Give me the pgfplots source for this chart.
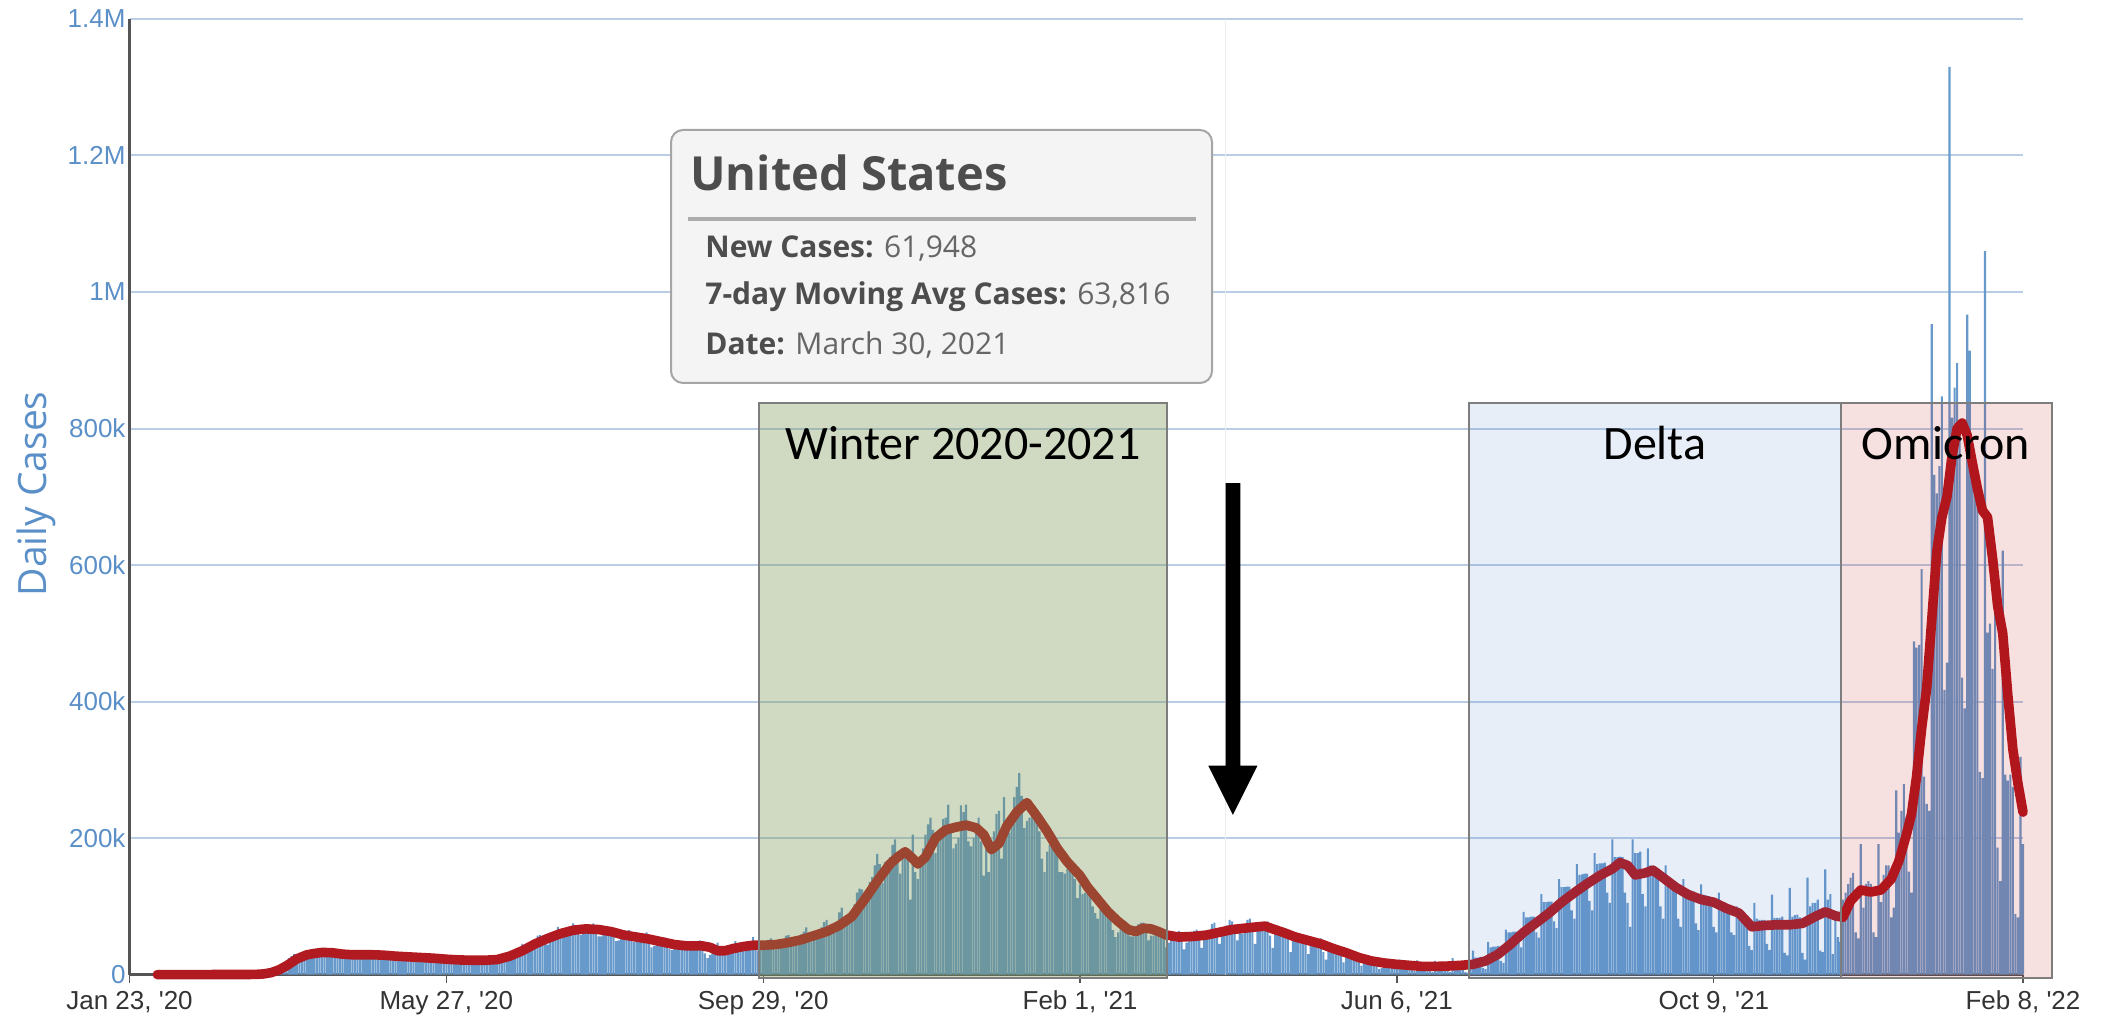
\documentclass[border=0pt]{standalone}
\usepackage{pgfplots}
\pgfplotsset{compat=1.18}
\usepackage{pgfplotstable}
\usepackage{fontspec}
\setmainfont{Liberation Sans}
\newfontfamily\opensans{Open Sans}
\newfontfamily\carlito{Carlito}
\definecolor{barblue}{RGB}{104,153,203}
\definecolor{linered}{RGB}{176,26,32}
\definecolor{gridblue}{RGB}{185,206,230}
\definecolor{labelblue}{RGB}{91,143,199}
\definecolor{tickgray}{RGB}{51,51,51}
\definecolor{axisgray}{RGB}{85,85,85}
\definecolor{boxgray}{RGB}{125,125,125}
\definecolor{wintercol}{RGB}{120,150,80}
\definecolor{deltacol}{RGB}{68,114,196}
\definecolor{omicol}{RGB}{192,0,0}
\definecolor{tipfill}{RGB}{244,244,244}
\definecolor{tipborder}{RGB}{165,165,165}
\definecolor{tiptext}{RGB}{77,77,77}
\definecolor{tipval}{RGB}{102,102,102}
\definecolor{sepgray}{RGB}{172,172,172}
\definecolor{crossgray}{RGB}{236,236,236}

% daily new cases (thousands), first row = day 46 (Mon 9 Mar 2020), day 0 = 23 Jan 2020
\pgfplotstableread[row sep=\\]{v\\
0.1\\0.2\\0.3\\0.4\\0.6\\0.7\\0.8\\
1.5\\2.5\\4\\6\\9\\12\\14\\
14\\17\\20\\24\\27\\30\\29\\
25\\27\\29\\32\\35\\35\\30\\
30\\30\\31\\34\\35\\33\\28\\
26\\27\\30\\31\\32\\30\\27\\
26\\27\\28\\30\\35\\33\\27\\
23\\25\\28\\30\\33\\30\\26\\
24\\25\\27\\29\\29\\28\\22\\
22\\23\\23\\28\\28\\26\\21\\
22\\21\\23\\26\\25\\24\\19\\
18\\19\\20\\22\\24\\25\\21\\
21\\20\\20\\22\\24\\22\\18\\
18\\19\\21\\23\\25\\25\\20\\
20\\23\\26\\28\\32\\32\\27\\
29\\34\\38\\40\\45\\42\\41\\
43\\47\\52\\57\\58\\50\\47\\
44\\59\\62\\62\\70\\62\\58\\
62\\64\\68\\75\\72\\64\\58\\
62\\63\\70\\73\\75\\66\\56\\
56\\64\\67\\66\\68\\58\\49\\
50\\55\\56\\60\\65\\56\\48\\
48\\54\\53\\55\\62\\53\\40\\
42\\46\\48\\49\\54\\47\\38\\
36\\42\\42\\47\\48\\45\\36\\
36\\42\\43\\45\\50\\42\\31\\
24\\29\\35\\38\\47\\40\\34\\
36\\38\\40\\45\\49\\42\\35\\
39\\40\\40\\47\\55\\43\\35\\
37\\41\\42\\46\\53\\48\\37\\
39\\45\\51\\57\\58\\51\\46\\
43\\50\\59\\63\\69\\57\\48\\
56\\60\\62\\69\\77\\80\\58\\
67\\73\\78\\91\\98\\85\\76\\
84\\92\\103\\120\\126\\125\\105\\
119\\136\\143\\160\\177\\162\\134\\
165\\162\\172\\190\\198\\178\\148\\
170\\175\\180\\110\\205\\150\\140\\
160\\185\\205\\220\\230\\212\\178\\
195\\208\\228\\230\\249\\218\\185\\
192\\200\\248\\238\\249\\195\\188\\
200\\210\\230\\195\\145\\200\\150\\
180\\210\\235\\240\\170\\260\\225\\
208\\230\\260\\275\\295\\262\\215\\
225\\230\\235\\235\\240\\210\\170\\
150\\180\\190\\200\\195\\175\\150\\
150\\148\\155\\165\\164\\140\\112\\
132\\118\\120\\122\\130\\100\\90\\
82\\95\\97\\104\\100\\85\\65\\
55\\62\\68\\75\\78\\68\\56\\
56\\71\\74\\76\\76\\61\\50\\
57\\57\\66\\64\\67\\58\\40\\
47\\58\\58\\62\\64\\54\\37\\
47\\53\\58\\64\\66\\60\\39\\
52\\56\\64\\74\\76\\64\\45\\
61\\66\\72\\80\\78\\60\\50\\
74\\60\\72\\80\\82\\64\\45\\
67\\76\\74\\74\\78\\57\\39\\
62\\64\\65\\63\\65\\55\\33\\
56\\58\\55\\56\\59\\45\\30\\
45\\48\\51\\52\\53\\33\\22\\
38\\39\\38\\37\\38\\28\\18\\
34\\28\\31\\31\\32\\22\\13\\
25\\22\\25\\23\\25\\12\\8\\
10\\19\\17\\19\\21\\12\\8\\
22\\13\\15\\15\\17\\7\\5\\
21\\11\\15\\11\\14\\6\\4\\
20\\12\\14\\13\\15\\5\\4\\
24\\14\\17\\17\\16\\4\\3\\
12\\35\\25\\25\\26\\10\\8\\
48\\40\\41\\41\\42\\20\\17\\
66\\62\\62\\63\\63\\46\\40\\
92\\84\\84\\85\\85\\62\\54\\
118\\106\\106\\107\\107\\78\\68\\
140\\128\\128\\129\\129\\94\\82\\
162\\146\\147\\148\\148\\108\\94\\
178\\162\\163\\163\\164\\120\\105\\
198\\172\\172\\173\\172\\120\\105\\
70\\198\\178\\178\\180\\118\\100\\
185\\160\\158\\156\\155\\100\\82\\
160\\140\\138\\137\\136\\82\\70\\
140\\125\\124\\123\\122\\75\\65\\
132\\117\\116\\115\\113\\70\\62\\
120\\104\\103\\102\\100\\62\\58\\
100\\80\\78\\78\\76\\42\\36\\
105\\82\\80\\80\\80\\45\\36\\
117\\83\\83\\83\\85\\32\\28\\
127\\85\\87\\88\\84\\32\\22\\
142\\100\\105\\105\\110\\35\\33\\
154\\110\\118\\30\\80\\55\\48\\
110\\120\\133\\142\\149\\62\\53\\
191\\98\\133\\137\\133\\62\\55\\
191\\106\\146\\160\\160\\84\\98\\
270\\208\\240\\279\\231\\151\\120\\
488\\479\\483\\594\\290\\250\\240\\
953\\732\\705\\745\\847\\417\\457\\
1330\\816\\860\\896\\798\\435\\390\\
967\\914\\763\\745\\692\\297\\288\\
1060\\501\\514\\448\\560\\186\\137\\
621\\293\\284\\293\\275\\89\\84\\
319\\191\\
}\bars

\begin{document}
\begin{tikzpicture}
\useasboundingbox (0,0) rectangle (1052.5pt,508pt);
\begin{axis}[
  scale only axis,
  width=946.75pt, height=477.8pt,
  at={(64.75pt,20.7pt)}, anchor=south west,
  xmin=0, xmax=747, ymin=0, ymax=1400,
  clip=false,
  axis x line*=bottom, axis y line*=left,
  x axis line style={draw=axisgray, line width=1.1pt},
  y axis line style={draw=axisgray, line width=1.6pt},
  xtick={0,125,250,375,500,625,747},
  xticklabels={{Jan 23, \textquotesingle20},{May 27, \textquotesingle20},{Sep 29, \textquotesingle20},{Feb 1, \textquotesingle21},{Jun 6, \textquotesingle21},{Oct 9, \textquotesingle21},{Feb 8, \textquotesingle22}},
  ytick={0,200,400,600,800,1000,1200,1400},
  yticklabels={0,200k,400k,600k,800k,1M,1.2M,1.4M},
  tick align=outside,
  major tick length=4pt,
  xtick style={draw=axisgray, line width=0.7pt},
  ytick style={draw=none},
  ymajorgrids,
  major grid style={draw=gridblue, line width=1pt},
  xticklabel style={font=\fontsize{13}{15}\selectfont, text=tickgray, anchor=north, inner sep=0pt, yshift=-4pt},
  yticklabel style={font=\fontsize{13}{15}\selectfont, text=labelblue, anchor=east, inner sep=0pt},
  yticklabel shift=-2.2pt,
  ylabel={Daily Cases},
  every axis y label/.style={at={(axis description cs:-0.0492,0.503)}, rotate=90, anchor=center, font=\opensans\fontsize{19.5}{23}\selectfont, text=labelblue},
]
% hover cross-hair
\draw[crossgray, line width=0.9pt] (axis cs:432.4,0) -- (axis cs:432.4,1400);
% daily bars
\addplot[ybar, bar width=0.84, bar shift=0pt, fill=barblue, draw=none]
  table[x expr=\coordindex+46, y=v] {\bars};
% 7-day moving average
\addplot[linered, line width=4.8pt, line join=round, line cap=round, mark=none] coordinates {
(11,0)(45,0.1)(50,0.3)(53,1)(56,3)(59,7)(62,13)(66,23)(70,29)(73,31)(76,32.5)(80,32)(84,30)(88,29)(92,29)(96,29)(100,28.5)(105,27)(110,26)(115,25)(120,24)(125,22.5)(130,21.5)(135,21)(140,21)(145,22)(150,27)(155,35)(160,45)(165,53)(170,60)(175,65)(180,67)(185,66)(190,63)(195,58)(200,55)(205,52)(210,48)(215,44)(220,42)(226,42)(229,40)(232,35)(235,35)(238,38)(242,41)(246,43)(250,43)(255,44)(260,47)(265,51)(270,57)(275,63)(280,72)(285,85)(290,110)(295,137)(300,162)(303,172)(306,180)(309,170)(311,162)(314,172)(318,200)(322,212)(326,216)(330,219)(334,215)(337,205)(340,183)(343,192)(346,217)(350,238)(354,252)(358,232)(362,210)(366,185)(370,165)(375,145)(378,128)(382,110)(386,92)(390,78)(394,66)(397,63)(400,68)(403,67)(406,63)(409,58)(414,55)(420,56)(425,58)(430,62)(435,66)(440,68)(445,70)(448,71)(451,67)(455,62)(460,55)(465,50)(470,45)(475,38)(480,32)(485,25)(490,20)(495,17)(500,15)(505,13.5)(510,12)(515,12)(520,12.5)(525,13.5)(530,15)(535,20)(540,30)(545,45)(550,62)(555,76)(560,90)(565,106)(570,120)(575,133)(580,145)(585,155)(588,164)(591,160)(594,146)(598,149)(601,153)(605,142)(610,128)(615,117)(620,110)(625,106)(630,97)(635,90)(640,70)(645,72)(650,73)(655,73)(660,75)(665,85)(669,92)(673,86)(676,84)(679,108)(683,124)(687,121)(691,124)(695,140)(698,166)(701,205)(703,235)(705,290)(707,360)(709,420)(711,520)(713,620)(715,670)(717,700)(719,760)(721,800)(723,808)(725,790)(727,750)(729,712)(731,680)(733,670)(735,610)(737,540)(739,500)(741,410)(743,330)(745,280)(747,238)
};
% shaded periods
\draw[boxgray, line width=1pt, fill=wintercol, fill opacity=0.35] (axis cs:248.3,-5) rectangle (axis cs:409.3,837.7);
\draw[boxgray, line width=1pt, fill=deltacol, fill opacity=0.12] (axis cs:528.4,-5) rectangle (axis cs:675.2,837.7);
\draw[boxgray, line width=1pt, fill=omicol, fill opacity=0.12] (axis cs:675.2,-5) rectangle (axis cs:758.5,837.7);
\node[anchor=base, inner sep=0pt, font=\carlito\fontsize{24}{29}\selectfont] at (axis cs:328.8,755) {Winter 2020-2021};
\node[anchor=base, inner sep=0pt, font=\carlito\fontsize{24}{29}\selectfont] at (axis cs:601.8,755) {Delta};
\node[anchor=base, inner sep=0pt, font=\carlito\fontsize{24}{29}\selectfont] at (axis cs:716.6,755) {Omicron};
% arrow
\fill[black] (axis cs:432.4,720) -- (axis cs:438.2,720) -- (axis cs:438.2,306) -- (axis cs:445,306) -- (axis cs:435.3,234) -- (axis cs:425.6,306) -- (axis cs:432.4,306) -- cycle;
\end{axis}
% tooltip
\draw[fill=tipfill, draw=tipborder, line width=1pt, rounded corners=6pt] (335.5pt,316.5pt) rectangle (606pt,443pt);
\node[anchor=base west, inner sep=0pt, text=tiptext] at (345pt,412.5pt) {\opensans\bfseries\fontsize{23.5}{28}\selectfont United States};
\draw[sepgray, line width=2.2pt] (344pt,398.5pt) -- (598pt,398.5pt);
\node[anchor=base west, inner sep=0pt, text=tiptext] at (352.5pt,379pt) {\opensans\fontsize{15}{18}\selectfont\textbf{New Cases:} \textcolor{tipval}{61,948}};
\node[anchor=base west, inner sep=0pt, text=tiptext] at (352.5pt,355.5pt) {\opensans\fontsize{15}{18}\selectfont\textbf{7-day Moving Avg Cases:} \textcolor{tipval}{63,816}};
\node[anchor=base west, inner sep=0pt, text=tiptext] at (352.5pt,330.5pt) {\opensans\fontsize{15}{18}\selectfont\textbf{Date:} \textcolor{tipval}{March 30, 2021}};
\end{tikzpicture}
\end{document}
